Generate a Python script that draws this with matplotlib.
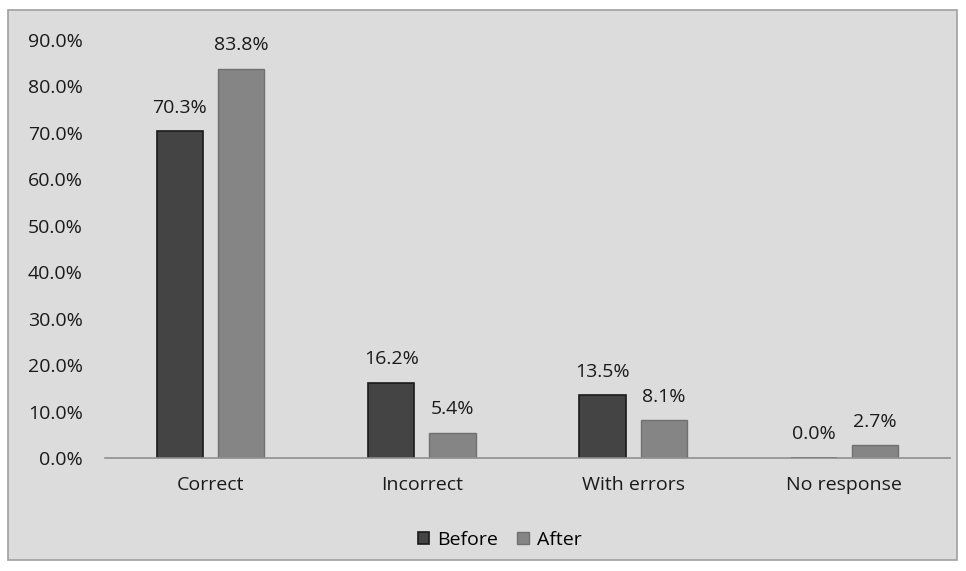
import matplotlib.pyplot as plt
import numpy as np
from matplotlib.patches import Rectangle

# chart values
categories = ['Correct', 'Incorrect', 'With errors', 'No response']
before = [70.3, 16.2, 13.5, 0.0]
after = [83.8, 5.4, 8.1, 2.7]

plt.rcParams['font.family'] = ['Open Sans', 'DejaVu Sans']

fig = plt.figure(figsize=(9.66, 5.71), dpi=100)
fig.patch.set_facecolor('white')
# chart area frame
fig.patches.append(Rectangle((8 / 966, 1 - 560 / 571), 949 / 966, 550 / 571,
                             transform=fig.transFigure, facecolor='#dcdcdc',
                             edgecolor='#a0a0a0', linewidth=1.2, zorder=-5))

ax = fig.add_axes([105 / 966, 1 - 458 / 571, 845 / 966, 418 / 571])
ax.set_facecolor('none')

x = np.arange(len(categories))
w = 0.22
off = 0.145
b1 = ax.bar(x - off, before, w, color='#444444', edgecolor='#1a1a1a', linewidth=1.2, label='Before')
b2 = ax.bar(x + off, after, w, color='#858585', edgecolor='#707070', linewidth=1.0, label='After')

for rect, v in zip(list(b1) + list(b2), before + after):
    ax.text(rect.get_x() + rect.get_width() / 2, v + 4.0, f'{v:.1f}%',
            ha='center', va='baseline', fontsize=14, color='#1a1a1a')

ax.set_xlim(-0.5, len(categories) - 0.5)
ax.set_ylim(0, 90)
ax.set_yticks(np.arange(0, 91, 10))
ax.set_yticklabels([f'{t:.1f}%' for t in np.arange(0, 91, 10)])
ax.set_xticks(x)
ax.set_xticklabels(categories)
ax.tick_params(axis='both', length=0, labelsize=14, colors='#1a1a1a')
ax.tick_params(axis='x', pad=13)
ax.tick_params(axis='y', pad=16)

for s in ['top', 'right', 'left']:
    ax.spines[s].set_visible(False)
ax.spines['bottom'].set_color('#909090')
ax.spines['bottom'].set_linewidth(1.2)

ax.legend(loc='center', bbox_to_anchor=(0.467, -0.196), ncol=2, frameon=False,
          fontsize=14, handlelength=0.6, handleheight=0.6, handletextpad=0.4,
          columnspacing=1.0)

fig.savefig('out.png', dpi=100)
